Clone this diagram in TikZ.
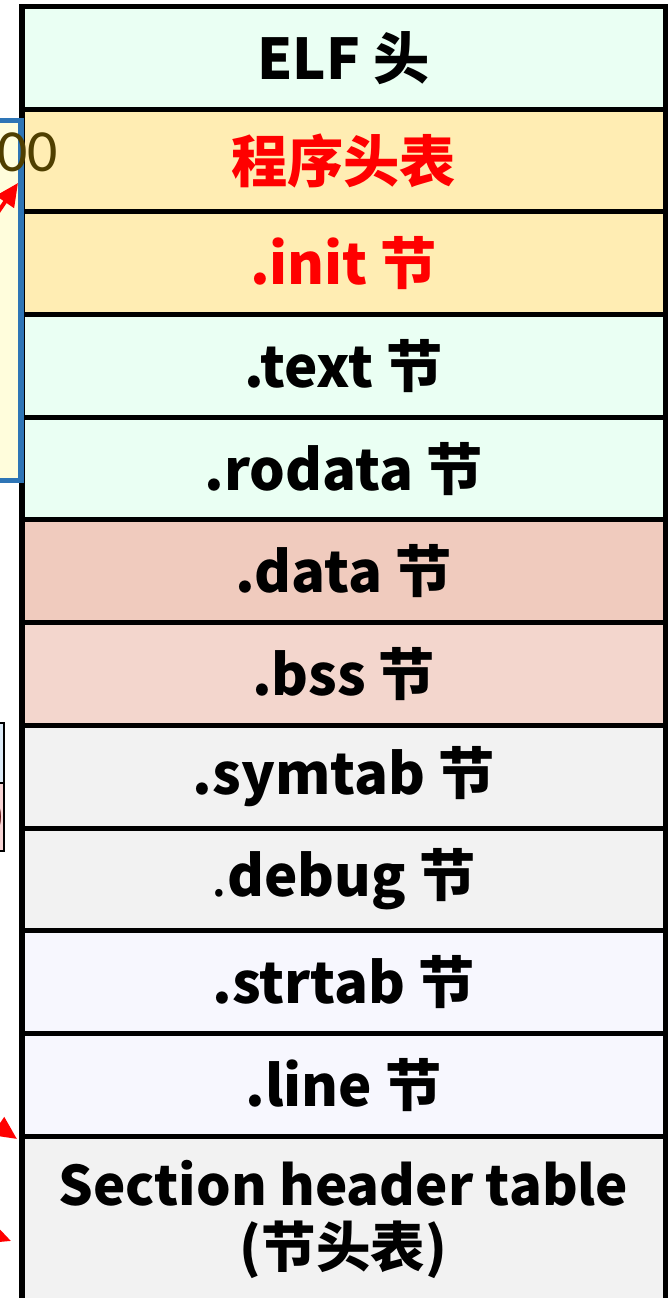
\documentclass[tikz,border=0pt]{standalone}
\usepackage{fontspec}
\usepackage{xcolor}
\usetikzlibrary{positioning,arrows.meta}
\setmainfont{Noto Sans CJK SC}
\newfontfamily\numfont{Carlito}
\definecolor{SecMint}{HTML}{EAFFF3}
\definecolor{SecYellow}{HTML}{FFEDB3}
\definecolor{SecData}{HTML}{F0CBBE}
\definecolor{SecBss}{HTML}{F3D6CD}
\definecolor{SecGrey}{HTML}{F2F2F2}
\definecolor{SecLilac}{HTML}{F7F7FE}
\definecolor{VmBlue}{HTML}{2E75B6}
\definecolor{VmFill}{HTML}{FFFDDC}
\definecolor{NumBrown}{HTML}{4F3F00}
\definecolor{FragBlue}{HTML}{DDEBF7}
\definecolor{FragPink}{HTML}{F8D5D5}
\definecolor{FragRed}{HTML}{5A0A0A}

\tikzset{
  sect/.style={draw=black,line width=0.1cm,minimum width=12.86cm,minimum height=2.054cm,
    inner sep=0pt,outer sep=0pt,align=center,font=\fontsize{32}{31}\selectfont\bfseries},
  ptr/.style={red,line width=0.08cm,-{Triangle[length=0.46cm,width=0.42cm]}},
}

\begin{document}
\begin{tikzpicture}[x=1cm,y=1cm]
\path[use as bounding box] (0,0) rectangle (13.42,25.96);
% the file layout, one box per part
\node[sect,fill=SecMint,anchor=north] (elfhdr) at (6.87,25.83) {ELF 头};
\node[sect,fill=SecYellow,text=red,below=0pt of elfhdr] (phdr) {程序头表};
\node[sect,fill=SecYellow,text=red,below=0pt of phdr] (init) {.init 节};
\node[sect,fill=SecMint,below=0pt of init] (textsec) {.text 节};
\node[sect,fill=SecMint,below=0pt of textsec] (rodata) {.rodata 节};
\node[sect,fill=SecData,below=0pt of rodata] (data) {.data 节};
\node[sect,fill=SecBss,below=0pt of data] (bss) {.bss 节};
\node[sect,fill=SecGrey,below=0pt of bss] (symtab) {.symtab 节};
\node[sect,fill=SecGrey,below=0pt of symtab] (debug) {{\mdseries.}debug 节};
\node[sect,fill=SecLilac,below=0pt of debug] (strtab) {.strtab 节};
\node[sect,fill=SecLilac,below=0pt of strtab] (line) {.line 节};
\node[sect,fill=SecGrey,minimum height=3.32cm,below=0pt of line,
  font=\fontsize{31}{35}\selectfont\bfseries] (shdr) {Section header table\\(节头表)};

% segment box on the left
\draw[VmBlue,fill=VmFill,line width=0.11cm] (-1,16.35) rectangle (0.42,23.55);
\node[text=NumBrown,font=\numfont\fontsize{34}{34}\selectfont,anchor=east,inner sep=0pt] (addr) at (1.16,22.92) {00};
\draw[black,line width=0.03cm,fill=FragBlue] (-1,10.30) rectangle (0.08,11.50);
\draw[black,line width=0.03cm,fill=FragPink] (-1,8.94) rectangle (0.08,10.30);
\node[text=FragRed,font=\bfseries\fontsize{30}{30}\selectfont,anchor=east,inner sep=0pt] (frag) at (0.07,9.62) {0};

% pointers
\coordinate (vmfrom) at (-0.60,20.90);
\coordinate (vmto) at (0.36,22.30);
\coordinate (shfromA) at (-0.80,3.96);
\coordinate (shtoA) at (0.34,3.18);
\coordinate (shfromB) at (-1.00,1.60);
\coordinate (shtoB) at (0.22,1.14);
\draw[ptr] (vmfrom) -- (vmto);
\draw[ptr] (shfromA) -- (shtoA);
\draw[ptr] (shfromB) -- (shtoB);
\end{tikzpicture}
\end{document}
